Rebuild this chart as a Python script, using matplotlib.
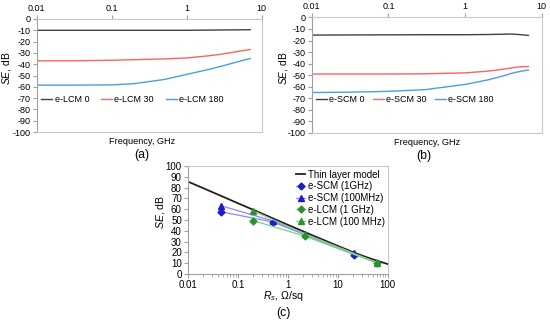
import matplotlib
matplotlib.use("Agg")
import matplotlib.pyplot as plt
from matplotlib.ticker import FixedLocator, NullFormatter, LogLocator

plt.rcParams['font.family'] = ['Liberation Sans', 'DejaVu Sans']
plt.rcParams['axes.unicode_minus'] = False
plt.rcParams['mathtext.fontset'] = 'custom'
plt.rcParams['mathtext.rm'] = 'Liberation Sans'
plt.rcParams['mathtext.it'] = 'Liberation Sans:italic'

# ---- Panel (a) data ----
freq_a = [0.01, 0.03, 0.1, 0.2, 0.5, 1, 2, 3, 5, 7]
lcm0 = [-10, -10, -10, -10, -10, -10, -9.8, -9.7, -9.6, -9.5]
lcm30 = [-37, -37, -36.5, -36, -35.3, -34.5, -32.5, -31, -28.5, -27]
lcm180 = [-58.5, -58.5, -58.3, -57.2, -53.5, -49, -44.5, -41.5, -37.5, -35]

# ---- Panel (b) data ----
freq_b = [0.01, 0.03, 0.1, 0.3, 1, 2, 3, 4, 5, 6.7]
scm0 = [-15.3, -15.2, -15.1, -15, -15, -14.8, -14.6, -14.4, -14.8, -15.6]
scm30 = [-49, -49, -49, -48.8, -48, -46.5, -45, -43.8, -42.8, -42.5]
scm180 = [-65, -64.7, -64, -62.5, -58, -54, -51, -48.5, -47, -45.5]

# ---- Panel (c) data ----
rs_model = [0.01, 0.03, 0.1, 0.3, 1, 3, 10, 20, 30, 50, 100]
se_model = [85.5, 76, 65.5, 56, 45.5, 36.1, 26, 20.3, 17.2, 13.6, 9.2]
rs_scm = [0.045, 0.5, 21]
se_scm_1g = [57.7, 48.2, 18]
se_scm_100m = [63.3, 49.2, 19]
rs_lcm = [0.2, 2.2, 62]
se_lcm_1g = [49.5, 35, 10]
se_lcm_100m = [58.7, 36.8, 10.6]

fig = plt.figure(figsize=(5.5, 3.22), dpi=100)
fs_top = 6.5
fs_c = 7
grey = '#a0a0a0'
c_black = '#404040'
c_red = '#ff6060'
c_blue = '#4a9ee0'


def style_top_axes(ax, lab_x):
    ax.set_xscale('log')
    ax.set_xlim(0.01, 10)
    ax.set_ylim(-100, 0)
    ax.xaxis.tick_top()
    ax.xaxis.set_major_locator(FixedLocator([0.01, 0.1, 1, 10]))
    ax.xaxis.set_minor_locator(FixedLocator([]))
    ax.set_xticklabels(['0.01', '0.1', '1', '10'])
    ax.set_yticks(range(-100, 1, 10))
    ax.tick_params(axis='both', labelsize=fs_top, length=3, color=grey, pad=1.5)
    for s in ax.spines.values():
        s.set_color('#c8c8c8')
        s.set_linewidth(0.8)
    ax.spines['left'].set_color(grey)
    ax.set_ylabel(r'$\it{SE}$, dB', fontsize=7.4)
    ax.yaxis.set_label_coords(lab_x, 0.56)


# Panel (a)
axa = fig.add_axes([0.067, 0.590, 0.409, 0.351])
axa.plot(freq_a, lcm0, color=c_black, lw=1.0, label='e-LCM 0')
axa.plot(freq_a, lcm30, color=c_red, lw=1.0, label='e-LCM 30')
axa.plot(freq_a, lcm180, color=c_blue, lw=1.0, label='e-LCM 180')
style_top_axes(axa, -0.107)
axa.legend(loc='center left', bbox_to_anchor=(-0.005, 0.29), ncol=3, frameon=False,
           fontsize=6.5, handlelength=1.2, handletextpad=0.3, columnspacing=1.3,
           borderpad=0.1)
fig.text(0.258, 0.562, 'Frequency, GHz', fontsize=6.6, ha='center', va='center')
fig.text(0.258, 0.520, '(a)', fontsize=8.8, ha='center', va='center')

# Panel (b)
axb = fig.add_axes([0.567, 0.587, 0.418, 0.359])
axb.plot(freq_b, scm0, color=c_black, lw=1.0, label='e-SCM 0')
axb.plot(freq_b, scm30, color=c_red, lw=1.0, label='e-SCM 30')
axb.plot(freq_b, scm180, color=c_blue, lw=1.0, label='e-SCM 180')
style_top_axes(axb, -0.096)
axb.legend(loc='center left', bbox_to_anchor=(-0.005, 0.29), ncol=3, frameon=False,
           fontsize=6.5, handlelength=1.2, handletextpad=0.2, columnspacing=1.0,
           borderpad=0.1)
fig.text(0.776, 0.556, 'Frequency, GHz', fontsize=6.6, ha='center', va='center')
fig.text(0.770, 0.517, '(b)', fontsize=8.8, ha='center', va='center')

# Panel (c)
axc = fig.add_axes([0.342, 0.149, 0.363, 0.3355])
axc.plot(rs_model, se_model, color='#202020', lw=1.3, label='Thin layer model')
axc.plot(rs_scm, se_scm_1g, color='#8a8af0', lw=0.9, marker='D', ms=3.5,
         mfc='#1a1ad8', mec='#1a1ad8', label='e-SCM (1GHz)')
axc.plot(rs_scm, se_scm_100m, color='#8a8af0', lw=0.9, marker='^', ms=4.5,
         mfc='#1a1ad8', mec='#1a1ad8', label='e-SCM (100MHz)')
axc.plot(rs_lcm, se_lcm_1g, color='#80d080', lw=0.9, marker='D', ms=3.5,
         mfc='#2a922a', mec='#2a922a', label='e-LCM (1 GHz)')
axc.plot(rs_lcm, se_lcm_100m, color='#80d080', lw=0.9, marker='^', ms=4.5,
         mfc='#2a922a', mec='#2a922a', label='e-LCM (100 MHz)')
axc.set_xscale('log')
axc.set_xlim(0.01, 100)
axc.set_ylim(0, 100)
axc.xaxis.set_major_locator(FixedLocator([0.01, 0.1, 1, 10, 100]))
axc.xaxis.set_minor_locator(LogLocator(base=10, subs=range(2, 10)))
axc.xaxis.set_minor_formatter(NullFormatter())
axc.set_xticklabels(['0.01', '0.1', '1', '10', '100'])
axc.set_yticks(range(0, 101, 10))
axc.tick_params(axis='both', labelsize=fs_c, length=3, color=grey, pad=1.5)
axc.tick_params(axis='x', which='minor', length=2, color=grey)
for s in axc.spines.values():
    s.set_color('#c8c8c8')
    s.set_linewidth(0.8)
axc.spines['left'].set_color(grey)
axc.spines['bottom'].set_color(grey)
axc.set_ylabel(r'$\it{SE}$, dB', fontsize=7.6)
axc.yaxis.set_label_coords(-0.105, 0.574)
axc.legend(loc='upper right', bbox_to_anchor=(1.02, 1.03), frameon=False, fontsize=7,
           handlelength=0.9, handletextpad=0.3, labelspacing=0.18, borderpad=0.2)
fig.text(0.515, 0.080, r'$\it{R_s}$, Ω/sq', fontsize=7.6, ha='center', va='center')
fig.text(0.515, 0.028, '(c)', fontsize=8.8, ha='center', va='center')

fig.savefig('out.png', dpi=100)
